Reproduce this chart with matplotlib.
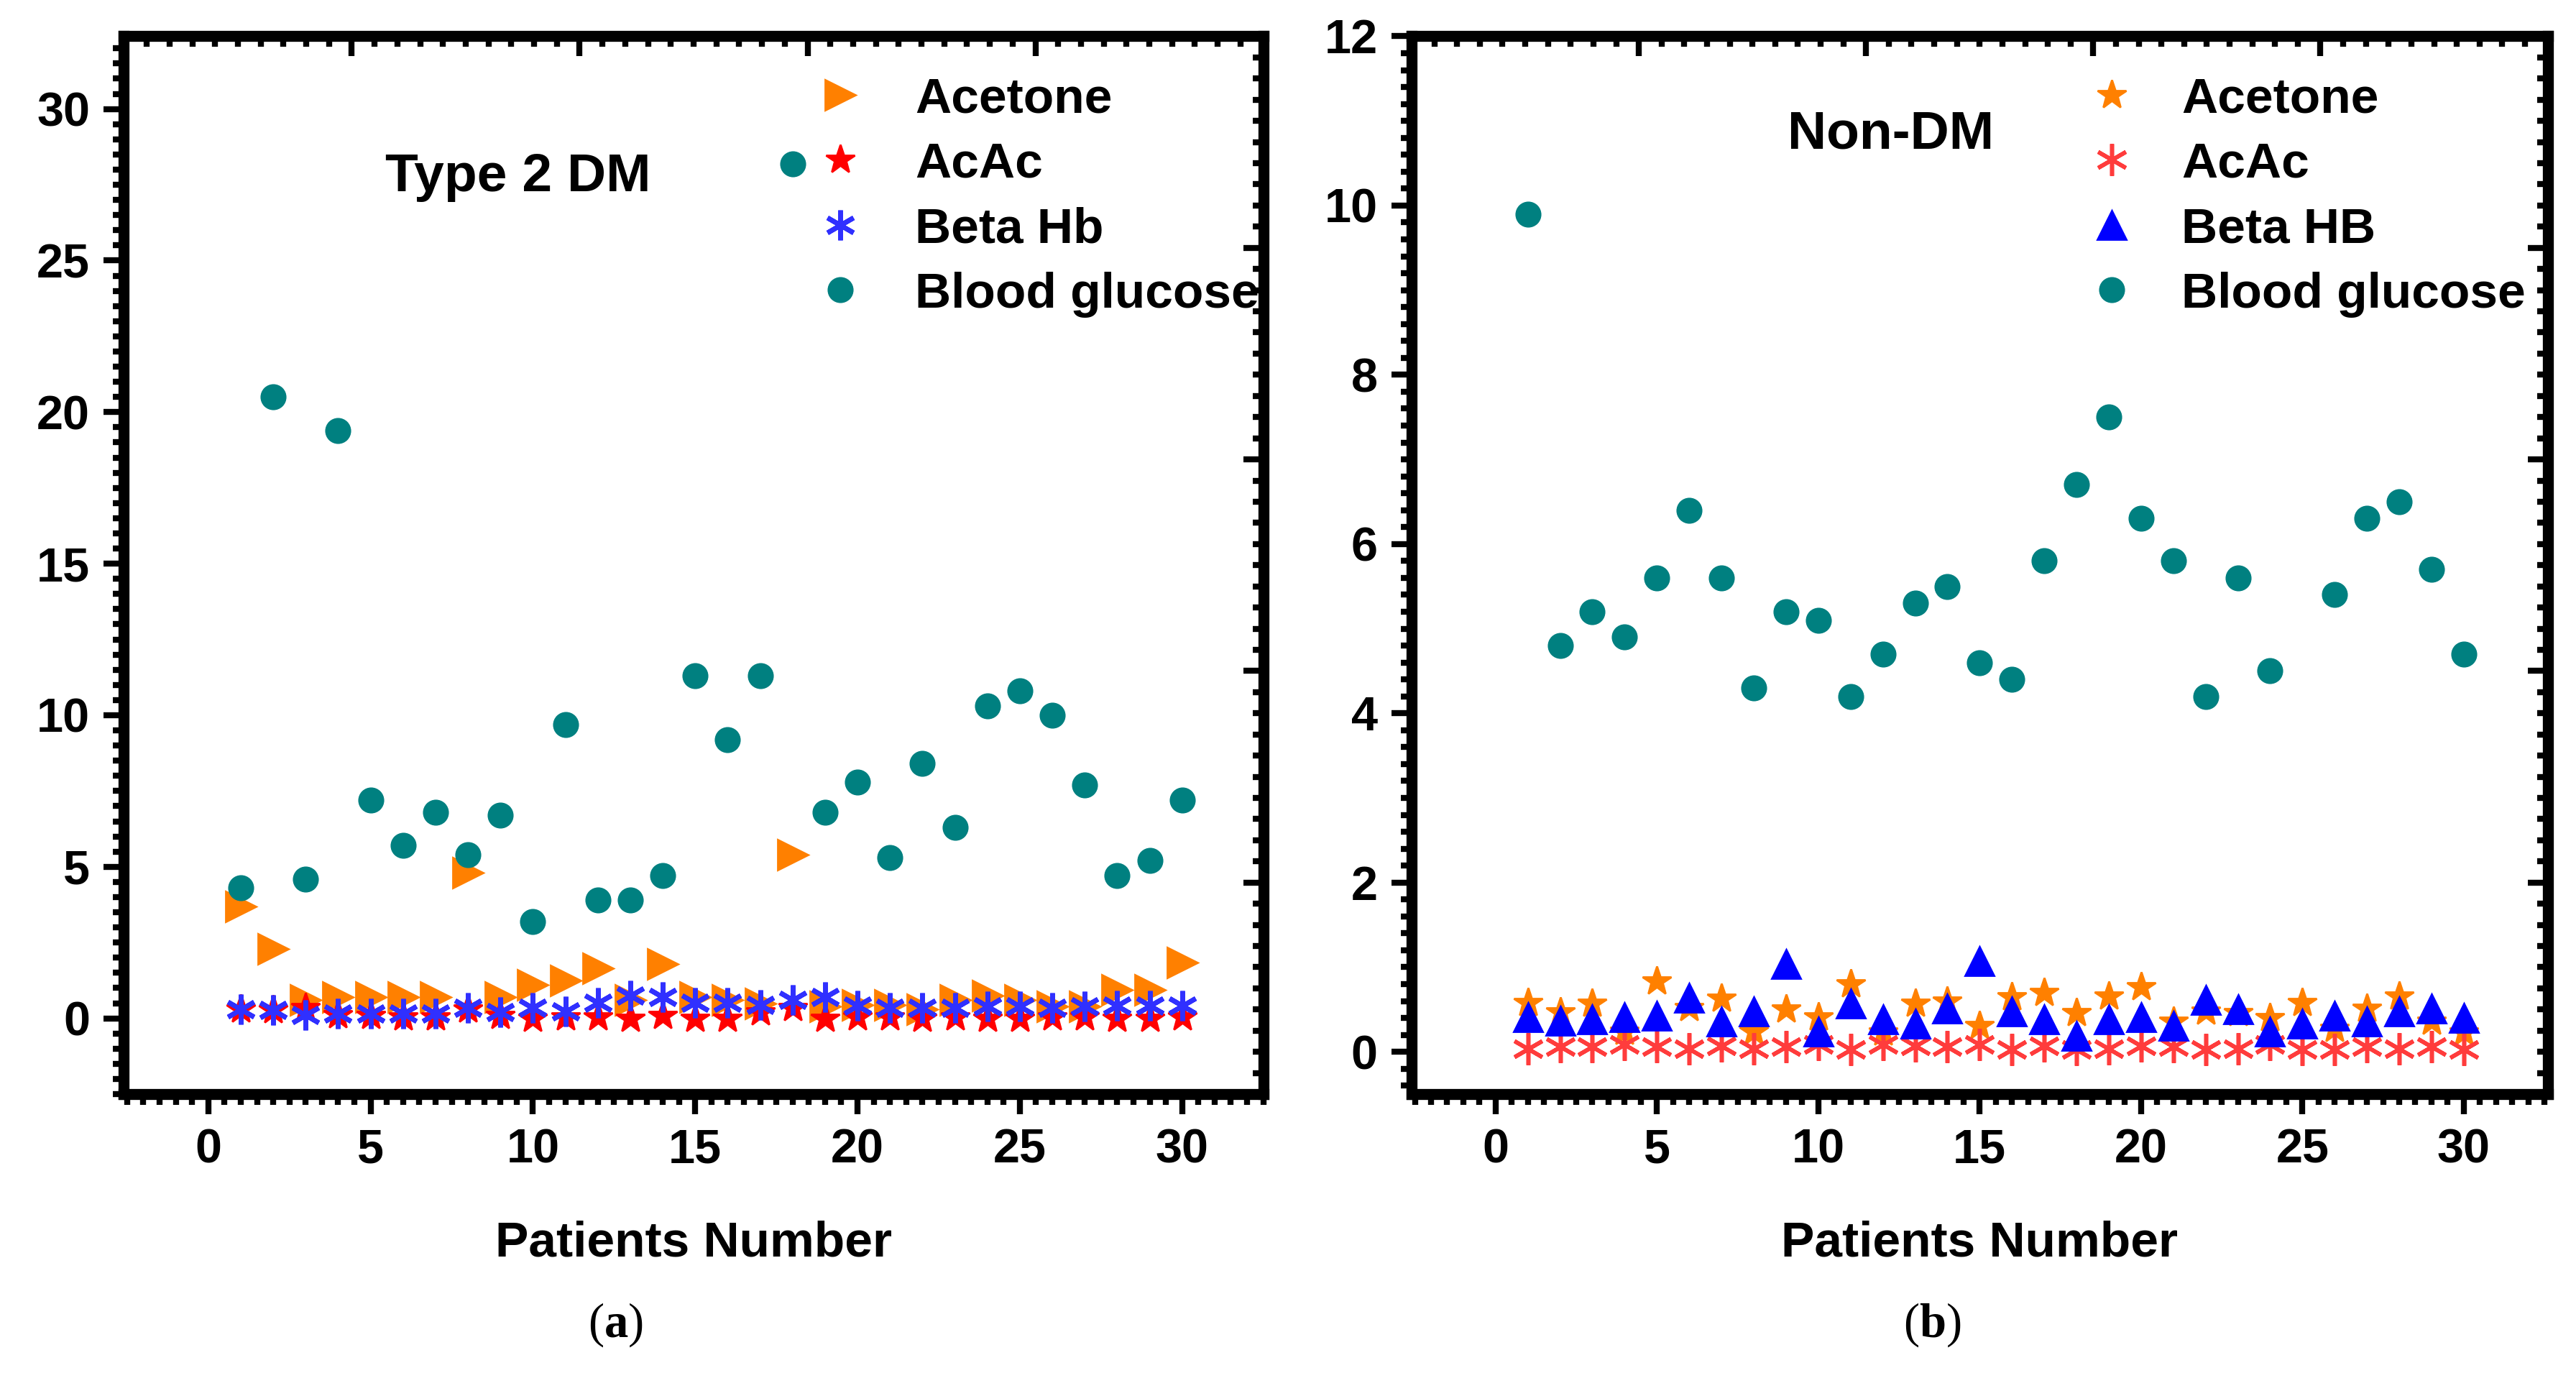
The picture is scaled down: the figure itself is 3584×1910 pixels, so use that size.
import numpy as np
import matplotlib.pyplot as plt
from matplotlib.ticker import MultipleLocator

plt.rcParams['font.family'] = ['Liberation Sans', 'DejaVu Sans']
plt.rcParams['font.weight'] = 'bold'
plt.rcParams['mathtext.fontset'] = 'custom'
plt.rcParams['mathtext.rm'] = 'Liberation Serif'
plt.rcParams['mathtext.bf'] = 'Liberation Serif:bold'

patients = np.arange(1, 31)

# Type 2 DM
glucose_t2 = [4.3, 20.5, 4.6, 19.4, 7.2, 5.7, 6.8, 5.4, 6.7, 3.2, 9.7, 3.9, 3.9, 4.7, 11.3,
              9.2, 11.3, 28.2, 6.8, 7.8, 5.3, 8.4, 6.3, 10.3, 10.8, 10.0, 7.7, 4.7, 5.2, 7.2]
acetone_t2 = [3.7, 2.3, 0.6, 0.7, 0.7, 0.7, 0.7, 4.8, 0.7, 1.1, 1.25, 1.65, 0.6, 1.8, 0.7,
              0.6, 0.5, 5.4, 0.4, 0.45, 0.45, 0.3, 0.6, 0.75, 0.6, 0.4, 0.4, 0.95, 0.95, 1.85]
acac_t2 = [0.3, 0.28, 0.35, 0.12, 0.08, 0.05, 0.05, 0.31, 0.08, 0.0, 0.04, 0.04, 0.0, 0.08, 0.0,
           0.0, 0.2, 0.35, 0.0, 0.04, 0.04, 0.0, 0.04, 0.0, 0.0, 0.04, 0.04, 0.0, 0.0, 0.04]
beta_t2 = [0.3, 0.28, 0.1, 0.16, 0.16, 0.16, 0.16, 0.35, 0.2, 0.35, 0.24, 0.51, 0.75, 0.71, 0.51,
           0.51, 0.45, 0.62, 0.7, 0.43, 0.35, 0.35, 0.35, 0.4, 0.4, 0.35, 0.4, 0.43, 0.43, 0.43]

# Non-DM
glucose_nd = [9.9, 4.8, 5.2, 4.9, 5.6, 6.4, 5.6, 4.3, 5.2, 5.1, 4.2, 4.7, 5.3, 5.5, 4.6,
              4.4, 5.8, 6.7, 7.5, 6.3, 5.8, 4.2, 5.6, 4.5, np.nan, 5.4, 6.3, 6.5, 5.7, 4.7]
acetone_nd = [0.58, 0.47, 0.57, 0.24, 0.83, 0.52, 0.63, 0.24, 0.5, 0.41, 0.8, 0.23, 0.57, 0.6, 0.31,
              0.65, 0.7, 0.46, 0.66, 0.77, 0.36, 0.48, 0.46, 0.4, 0.58, 0.27, 0.51, 0.66, 0.36, 0.23]
acac_nd = [0.04, 0.06, 0.06, 0.09, 0.06, 0.04, 0.07, 0.04, 0.06, 0.09, 0.03, 0.09, 0.07, 0.06, 0.09,
           0.03, 0.07, 0.03, 0.04, 0.07, 0.06, 0.03, 0.04, 0.09, 0.03, 0.03, 0.06, 0.04, 0.06, 0.03]
beta_nd = [0.41, 0.37, 0.38, 0.41, 0.43, 0.64, 0.36, 0.48, 1.04, 0.24, 0.57, 0.38, 0.33, 0.51, 1.07,
           0.48, 0.38, 0.19, 0.38, 0.41, 0.31, 0.61, 0.5, 0.24, 0.33, 0.43, 0.36, 0.48, 0.51, 0.4]

ORANGE = '#ff8000'
RED = '#ff0000'
BLUE = '#0000ff'
TEAL = '#008080'
ASTER = (6, 2, 0)

SPINE_W = 5.5
TICK_W = 3.0
MAJ_L = 10
MIN_L = 5.5

fig = plt.figure(figsize=(17.92, 9.55), dpi=200)
rect1 = [0.0481, 0.2031, 0.4423, 0.7705]
rect2 = [0.548, 0.2031, 0.441, 0.7705]
ax1 = fig.add_axes(rect1)
ax2 = fig.add_axes(rect2)


def style_axes(ax, rect, xlim, ylim, ymaj, ymin):
    ax.set_xlim(*xlim)
    ax.set_ylim(*ylim)
    for s in ax.spines.values():
        s.set_linewidth(SPINE_W)
    ax.xaxis.set_major_locator(MultipleLocator(5))
    ax.xaxis.set_minor_locator(MultipleLocator(0.5))
    ax.yaxis.set_major_locator(MultipleLocator(ymaj))
    ax.yaxis.set_minor_locator(MultipleLocator(ymin))
    ax.tick_params(which='both', top=False, right=False, direction='out', width=TICK_W)
    ax.tick_params(which='major', length=MAJ_L, labelsize=24, pad=7)
    ax.tick_params(which='minor', length=MIN_L)
    ax.set_xlabel('Patients Number', fontsize=25, fontweight='bold', labelpad=24)

    # mirrored top / right axes on a 0..1 scale, ticks pointing in
    ov = fig.add_axes(rect, frameon=False)
    ov.patch.set_visible(False)
    ov.set_xlim(0, 1)
    ov.set_ylim(0, 1)
    ov.xaxis.tick_top()
    ov.yaxis.tick_right()
    for axis in (ov.xaxis, ov.yaxis):
        axis.set_major_locator(MultipleLocator(0.2))
        axis.set_minor_locator(MultipleLocator(0.02))
    ov.tick_params(which='both', direction='in', width=TICK_W,
                   labeltop=False, labelright=False, labelbottom=False, labelleft=False,
                   bottom=False, left=False)
    ov.tick_params(which='major', length=MAJ_L)
    ov.tick_params(which='minor', length=MIN_L)
    return ov


# panel (a)
ax1.plot(patients, acetone_t2, '>', color=ORANGE, ms=15, ls='none', label='Acetone')
ax1.plot(patients, acac_t2, '*', color=RED, ms=15, ls='none', label='AcAc')
ax1.plot(patients, beta_t2, marker=ASTER, color='#3030ff', ms=15, mew=2.4, ls='none', label='Beta Hb')
ax1.plot(patients, glucose_t2, 'o', color=TEAL, ms=12, ls='none', label='Blood glucose')
style_axes(ax1, rect1, (-2.6, 32.5), (-2.5, 32.4), 5, 0.5)
ax1.text(0.346, 0.867, 'Type 2 DM', transform=ax1.transAxes, ha='center', va='center',
         fontsize=27, fontweight='bold')
leg1 = ax1.legend(loc='upper left', bbox_to_anchor=(0.598, 0.962), frameon=False, fontsize=25,
                  handlelength=1.4, handletextpad=0.8, labelspacing=0.38, borderpad=0,
                  borderaxespad=0, numpoints=1)
leg1.set_zorder(2)

# panel (b)
ax2.plot(patients, acetone_nd, '*', color=ORANGE, ms=15, ls='none', label='Acetone')
ax2.plot(patients, acac_nd, marker=ASTER, color='#ff3c3c', ms=16, mew=2.0, ls='none', label='AcAc')
ax2.plot(patients, beta_nd, '^', color=BLUE, ms=14.5, ls='none', label='Beta HB')
ax2.plot(patients, glucose_nd, 'o', color=TEAL, ms=12, ls='none', label='Blood glucose')
style_axes(ax2, rect2, (-2.6, 32.6), (-0.5, 12), 2, 0.2)
ax2.text(0.4215, 0.907, 'Non-DM', transform=ax2.transAxes, ha='center', va='center',
         fontsize=27, fontweight='bold')
leg2 = ax2.legend(loc='upper left', bbox_to_anchor=(0.590, 0.962), frameon=False, fontsize=25,
                  handlelength=1.2, handletextpad=0.8, labelspacing=0.38, borderpad=0,
                  borderaxespad=0, numpoints=1)
leg2.set_zorder(2)

fig.text(0.239, 0.035, r'($\mathbf{a}$)', fontsize=24, family='Liberation Serif',
         fontweight='normal', ha='center', va='center')
fig.text(0.75, 0.035, r'($\mathbf{b}$)', fontsize=24, family='Liberation Serif',
         fontweight='normal', ha='center', va='center')

fig.savefig('out.png', dpi=200)
